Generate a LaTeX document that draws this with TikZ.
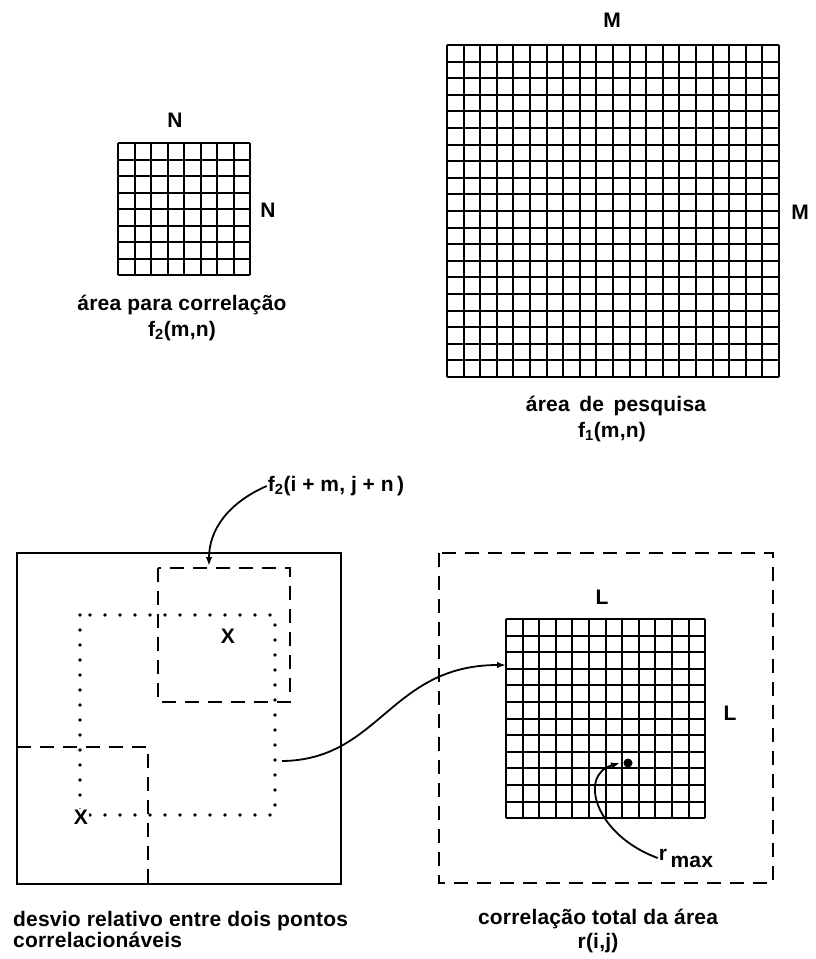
\documentclass[tikz,border=0pt]{standalone}
\usepackage{fontspec}
\setmainfont{Liberation Sans}[LetterSpace=1]
\usetikzlibrary{arrows.meta}

\begin{document}
\begin{tikzpicture}[x=1pt, y=-1pt, >={Latex[length=9pt,width=6.5pt]},
    font=\fontsize{21}{24}\selectfont\bfseries,
    cell/.style={line width=2pt},
    finecell/.style={line width=1.6pt},
    frame/.style={line width=1.8pt},
    dashbox/.style={line width=1.8pt, dash pattern=on 14pt off 9pt},
    dotbox/.style={line width=3.6pt, line cap=round, dash pattern=on 0pt off 15pt},
    lbl/.style={inner sep=1pt}]
  \useasboundingbox (0,0) rectangle (816,959);
  \def\sa{16.5}    % cell of the small correlation window (8 x 8)
  \def\sb{16.6}    % cell of the search area (20 x 20)
  \def\sc{16.6}    % cell of the correlation surface (12 x 12)
  % ---------------- correlation window f2(m,n)
  \foreach \k in {0,...,8} {
    \draw[cell] ({118+round(\k*\sa)},143) -- ({118+round(\k*\sa)},{143+round(8*\sa)});
    \draw[cell] (118,{143+round(\k*\sa)}) -- ({118+round(8*\sa)},{143+round(\k*\sa)});
  }
  \node[lbl] (nTop) at (175,120) {N};
  \node[lbl] (nSide) at (268,210) {N};
  \node[lbl] (capA) at (182,305) {área para correlação};
  \node[lbl] (capAf) at (182,331) {f\textsubscript{2}(m,n)};
  % ---------------- search area f1(m,n)
  \foreach \k in {0,...,20} {
    \draw[cell] ({447+round(\k*\sb)},45) -- ({447+round(\k*\sb)},{45+round(20*\sb)});
    \draw[cell] (447,{45+round(\k*\sb)}) -- ({447+round(20*\sb)},{45+round(\k*\sb)});
  }
  \node[lbl] (mTop) at (612,20) {M};
  \node[lbl] (mSide) at (800,212) {M};
  \node[lbl] (capB) at (616,406) {área\, de\, pesquisa};
  \node[lbl] (capBf) at (612,432) {f\textsubscript{1}(m,n)};
  % ---------------- relative shift between two points
  \draw[frame] (17,553) rectangle (341,884);
  \draw[dashbox] (158,568) rectangle (290,702);
  \draw[dashbox] (17,747) -- (148,747) -- (148,884);
  \draw[dotbox] (80,615) rectangle (275,815);
  \node[lbl] (xUp) at (228,636) {X};
  \node[lbl, fill=white] (xLow) at (81,817) {X};
  \coordinate (winTop) at (209,566);
  \coordinate (dotRight) at (282,761);
  \node[lbl] (fShift) at (336,486) {f\textsubscript{2}(i\;+\;m,\;j\;+\;n\,)};
  \draw[->, frame] (fShift.west) .. controls (228,503) and (209,530) .. (winTop);
  \node[lbl, anchor=north west, align=left] (capC) at (12,910)
    {desvio relativo entre dois pontos\\[-3pt]correlacionáveis};
  % ---------------- total correlation r(i,j)
  \draw[dashbox] (439,553) rectangle (773,883);
  \foreach \k in {0,...,12} {
    \draw[finecell] ({506+round(\k*\sc)},619) -- ({506+round(\k*\sc)},{619+round(12*\sc)});
    \draw[finecell] (506,{619+round(\k*\sc)}) -- ({506+round(12*\sc)},{619+round(\k*\sc)});
  }
  \coordinate (surfWest) at (506,665);
  \draw[->, frame] (dotRight) .. controls (380,760) and (390,665) .. (surfWest);
  \node[lbl] (lTop) at (602,597) {L};
  \node[lbl] (lSide) at (730,713) {L};
  \fill (628,763) circle (4.5pt);
  \coordinate (rPeak) at (620,763);
  \node[lbl] (rMax) at (686,858) {r\raisebox{-7pt}{\,max}};
  \draw[->, frame] (rMax.west) .. controls (595,835) and (578,775) .. (rPeak);
  \node[lbl] (capD) at (598,919) {correlação total da área};
  \node[lbl] (capDf) at (598,943) {r(i,j)};
\end{tikzpicture}
\end{document}
